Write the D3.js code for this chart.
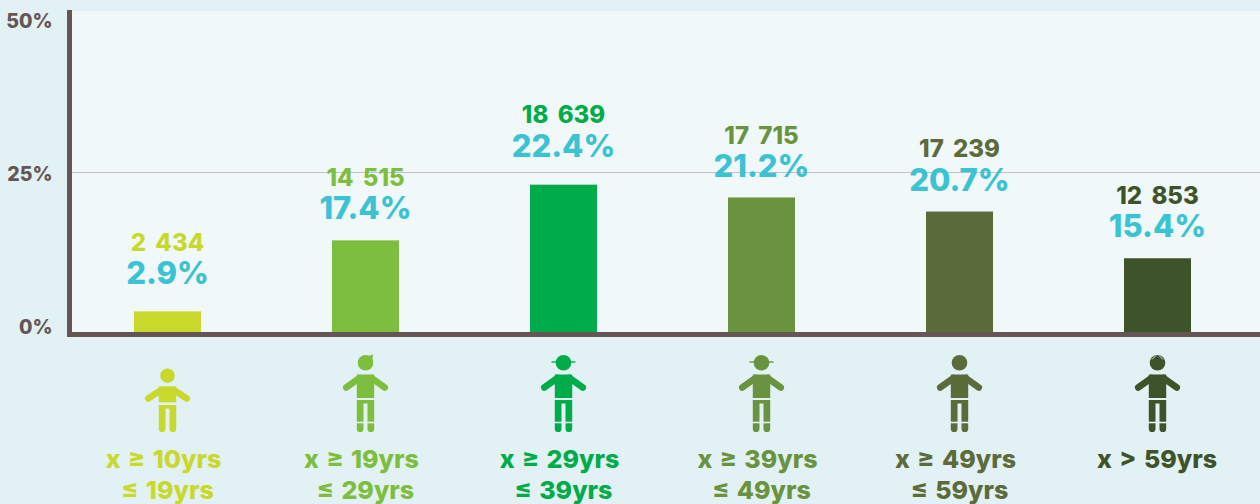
<!DOCTYPE html>
<head>
  <meta charset="utf-8">
  <script src="https://d3js.org/d3.v7.min.js"></script>
  <style>
html, body {
    margin: 0;
    padding: 0;
    background: #e2f1f4;
    overflow: hidden;
}
svg {
    display: block;
}
text {
    font-family: Inter, "Open Sans", sans-serif;
    font-weight: 800;
}
  </style>
</head>
<body>
<svg width="1260" height="504"></svg>
<script>
// data
var groups = ["10-19", "19-29", "29-39", "39-49", "49-59", "59+"];
var counts = ["2 434", "14 515", "18 639", "17 715", "17 239", "12 853"];
var shares = ["2.9%", "17.4%", "22.4%", "21.2%", "20.7%", "15.4%"];
// bars in the original are not drawn to the printed share, these are the drawn heights
var barHeights = [3.3, 14.4, 23.1, 21.1, 18.9, 11.6];
var firstLines = ["x ≥ 10yrs", "x ≥ 19yrs", "x ≥ 29yrs", "x ≥ 39yrs", "x ≥ 49yrs", "x > 59yrs"];
var secondLines = ["≤ 19yrs", "≤ 29yrs", "≤ 39yrs", "≤ 49yrs", "≤ 59yrs", ""];
var yTicks = [0, 25, 50];

var colors = ["#c8d92b", "#7dbe3f", "#00ac4a", "#69933f", "#5c6b3b", "#3e5329"];
var shareColor = "#3cc3d3";
var axisColor = "#655555";
var bgColor = "#e2f1f4";

var svg = d3.select("svg");

var x = d3.scaleBand()
    .domain(groups)
    .range([68.5, 1256.5])
    .paddingInner(0.6616)
    .paddingOuter(0.3308);

var y = d3.scaleLinear()
    .domain([0, 50])
    .range([332.5, 12.5]);

// tick labels sit inside the axis ends in the original
var yLabels = d3.scaleLinear()
    .domain([0, 50])
    .range([327, 21]);

function center(d) { return x(d) + x.bandwidth() / 2; }

// panel
svg.append("rect")
    .attr("x", 72).attr("y", 11)
    .attr("width", 1188).attr("height", 321)
    .attr("fill", "#f0f8fa");

// gridline at 25%
svg.append("line")
    .attr("x1", 70).attr("x2", 1260)
    .attr("y1", y(25)).attr("y2", y(25))
    .attr("stroke", "#c9bfc3");

// bars
svg.selectAll(".bar")
    .data(groups)
  .enter().append("rect")
    .attr("class", "bar")
    .attr("x", function(d) { return x(d); })
    .attr("width", x.bandwidth())
    .attr("y", function(d, i) { return y(barHeights[i]); })
    .attr("height", function(d, i) { return y(0) - y(barHeights[i]); })
    .attr("fill", function(d, i) { return colors[i]; });

// axis lines
svg.append("path")
    .attr("d", "M69.5 10V334.5H1260")
    .attr("fill", "none")
    .attr("stroke", axisColor)
    .attr("stroke-width", 5);

var yAxis = svg.append("g")
    .attr("transform", "translate(52.5,0)")
    .call(d3.axisLeft(yLabels)
      .tickValues(yTicks)
      .tickSize(0)
      .tickPadding(0)
      .tickFormat(function(d) { return d + "%"; }));
yAxis.select(".domain").remove();
yAxis.selectAll("text")
    .attr("fill", axisColor)
    .style("font-size", "19.5px");

// value labels, height above the bar differs per bar
var labelLift = [27, 21, 28, 20, 21, 21];

svg.selectAll(".share")
    .data(groups)
  .enter().append("text")
    .attr("class", "share")
    .attr("x", center)
    .attr("y", function(d, i) { return y(barHeights[i]) - labelLift[i]; })
    .attr("text-anchor", "middle")
    .attr("fill", shareColor)
    .style("font-size", "31px")
    .text(function(d, i) { return shares[i]; });

svg.selectAll(".count")
    .data(groups)
  .enter().append("text")
    .attr("class", "count")
    .attr("x", center)
    .attr("y", function(d, i) { return y(barHeights[i]) - labelLift[i] - 33.5; })
    .attr("text-anchor", "middle")
    .attr("fill", function(d, i) { return colors[i]; })
    .style("font-size", "24px")
    .style("word-spacing", "4px")
    .text(function(d, i) { return counts[i]; });

// category labels, two-line ones have the first line pushed a bit left
svg.selectAll(".first")
    .data(groups)
  .enter().append("text")
    .attr("class", "first")
    .attr("x", function(d, i) { return center(d) - (secondLines[i] ? 4 : 0.5); })
    .attr("y", 468)
    .attr("text-anchor", "middle")
    .attr("fill", function(d, i) { return colors[i]; })
    .style("font-size", "25px")
    .style("word-spacing", "2px")
    .text(function(d, i) { return firstLines[i]; });

svg.selectAll(".second")
    .data(groups)
  .enter().append("text")
    .attr("class", "second")
    .attr("x", center)
    .attr("y", 499)
    .attr("text-anchor", "middle")
    .attr("fill", function(d, i) { return colors[i]; })
    .style("font-size", "25px")
    .style("word-spacing", "2px")
    .text(function(d, i) { return secondLines[i]; });

// people icons
function legsPath(top, slot, bottom) {
  var r = 3.35;
  return "M-8.7 " + top + "H8.7V" + (bottom - r) +
    "A" + r + " " + r + " 0 0 1 2 " + (bottom - r) +
    "V" + slot + "H-2V" + (bottom - r) +
    "A" + r + " " + r + " 0 0 1 -8.7 " + (bottom - r) + "Z";
}

var icons = svg.selectAll(".icon")
    .data(groups)
  .enter().append("g")
    .attr("class", "icon")
    .attr("transform", function(d) { return "translate(" + center(d) + ",0)"; })
    .attr("fill", function(d, i) { return colors[i]; })
    .attr("stroke", "none");

icons.each(function(d, i) {
  var g = d3.select(this);
  var c = colors[i];
  var child = i === 0;
  var shoulder = child ? 386.3 : 374.5;
  var torsoEnd = child ? 402.3 : 398;
  var legTop = child ? 405 : 400;
  var handY = child ? 398.5 : 387.5;

  g.append("circle")
    .attr("cy", child ? 375.7 : 362.8)
    .attr("r", child ? 7.3 : 7.8);
  g.append("rect")
    .attr("x", -8.7).attr("y", shoulder)
    .attr("width", 17.4).attr("height", torsoEnd - shoulder);
  g.append("path")
    .attr("d", "M-19.3 " + handY + "L-6 " + (shoulder + 3.5) + "M19.3 " + handY + "L6 " + (shoulder + 3.5))
    .attr("fill", "none")
    .attr("stroke", c)
    .attr("stroke-width", 6.5)
    .attr("stroke-linecap", "round");
  g.append("path").attr("d", legsPath(legTop, legTop + 3.5, 432));

  // adults have a cut above the feet
  if (!child) {
    g.append("line")
      .attr("x1", -10).attr("x2", 10)
      .attr("y1", 422.5).attr("y2", 422.5)
      .attr("stroke", bgColor)
      .attr("stroke-width", 1.6);
  }
  // hair tuft
  if (i === 1) {
    g.append("path").attr("d", "M-2 356.5Q3 356.5 7.8 354.3Q6.5 358 7 363Z");
  }
  // hat brim
  if (i === 2 || i === 3) {
    g.append("line")
      .attr("x1", -12).attr("x2", 12)
      .attr("y1", 362).attr("y2", 362)
      .attr("stroke", c)
      .attr("stroke-width", 1.4);
  }
  // grey hair marks
  if (i === 5) {
    g.append("path")
      .attr("d", "M-5.5 359.5L-1.5 355.5M5.5 359.5L1.5 355.5")
      .attr("fill", "none")
      .attr("stroke", bgColor)
      .attr("stroke-width", 0.9);
  }
});
</script>
</body>
